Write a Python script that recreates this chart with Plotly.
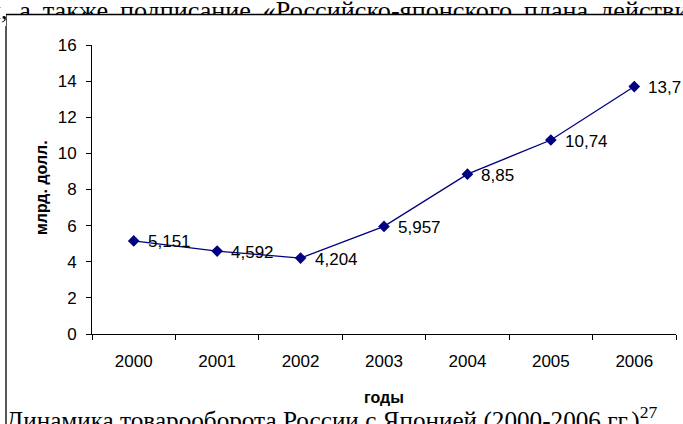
import plotly.graph_objects as go

# ---- data ----
years = ["2000", "2001", "2002", "2003", "2004", "2005", "2006"]
trade = [5.151, 4.592, 4.204, 5.957, 8.85, 10.74, 13.7]
labels = ["5,151", "4,592", "4,204", "5,957", "8,85", "10,74", "13,7"]
y_ticks = [0, 2, 4, 6, 8, 10, 12, 14, 16]
y_title = "млрд. долл."
x_title = "годы"
top_words = ["и,", "а", "также", "подписание", "«Российско-японского", "плана", "действий»"]
caption = "Динамика товарооборота России с Японией (2000-2006 гг.)<sup>27</sup>"

W, H = 683, 424
NAVY = "#000080"
SANS = "Liberation Sans"
SERIF = "Liberation Serif"

# justified document text: ordinary space plus a thin space between words
top_text = " \u2009".join(top_words)

def px(xp):
    return xp / W

def py(yp):
    return 1 - yp / H

fig = go.Figure()

fig.add_trace(go.Scatter(
    x=years, y=trade, mode="lines+markers",
    line=dict(color=NAVY, width=1.3),
    marker=dict(symbol="diamond", size=9, color=NAVY),
    cliponaxis=False, hoverinfo="skip", showlegend=False,
))

# clipped text above the chart box (document text partially hidden)
TX, TY = -53, -12
for xa, ya in (("x2", "y2"), ("x3", "y3")):
    fig.add_trace(go.Scatter(
        x=[TX], y=[TY], mode="text", text=[top_text], textposition="middle right",
        textfont=dict(family=SERIF, size=26.2, color="black"),
        cliponaxis=True, xaxis=xa, yaxis=ya, hoverinfo="skip", showlegend=False,
    ))

annotations = []
for i, (v, lab) in enumerate(zip(trade, labels)):
    annotations.append(dict(
        x=i, y=v, xref="x", yref="y", text=lab, showarrow=False,
        xanchor="left", yanchor="middle", xshift=12, yshift=-1,
        font=dict(family=SANS, size=17, color="black"),
    ))
annotations.append(dict(
    x=px(41), y=py(188), xref="paper", yref="paper", text="<b>" + y_title + "</b>",
    textangle=-90, showarrow=False, xanchor="center", yanchor="middle",
    font=dict(family=SANS, size=16, color="black"),
))
annotations.append(dict(
    x=px(384), y=py(397), xref="paper", yref="paper", text="<b>" + x_title + "</b>",
    showarrow=False, xanchor="center", yanchor="middle",
    font=dict(family=SANS, size=16, color="black"),
))
annotations.append(dict(
    x=px(4), y=py(418), xref="paper", yref="paper", text=caption,
    showarrow=False, xanchor="left", yanchor="middle",
    font=dict(family=SERIF, size=25.2, color="black"),
))

fig.update_layout(
    width=W, height=H, template="none",
    margin=dict(l=0, r=0, t=0, b=0, pad=0),
    paper_bgcolor="white", plot_bgcolor="white",
    showlegend=False,
    annotations=annotations,
    shapes=[dict(
        type="rect", xref="paper", yref="paper",
        x0=px(6), x1=1.05, y0=-0.05, y1=py(14.5),
        line=dict(color="black", width=1.3), fillcolor="rgba(0,0,0,0)", layer="below",
    )],
    xaxis=dict(
        domain=[px(92), px(676)], type="category", range=[-0.5, 6.5],
        tickson="boundaries", ticks="outside", ticklen=5, tickcolor="black",
        showline=True, linecolor="black", linewidth=1, showgrid=False,
        zeroline=False, ticklabelstandoff=12, automargin=False,
        tickfont=dict(family=SANS, size=17, color="black"),
    ),
    yaxis=dict(
        domain=[py(334), py(45)], range=[0, 16], tickvals=y_ticks,
        ticks="outside", ticklen=5, tickcolor="black",
        showline=True, linecolor="black", linewidth=1, showgrid=False,
        zeroline=False, ticklabelstandoff=6, automargin=False,
        tickfont=dict(family=SANS, size=17, color="black"),
    ),
    xaxis2=dict(domain=[0, 1], range=[-40, 643], anchor="y2", visible=False, fixedrange=True),
    yaxis2=dict(domain=[py(14.5), 1], range=[-14.5, 0], anchor="x2", visible=False, fixedrange=True),
    xaxis3=dict(domain=[0, px(6)], range=[-40, -34], anchor="y3", visible=False, fixedrange=True),
    yaxis3=dict(domain=[py(26), 1], range=[-26, 0], anchor="x3", visible=False, fixedrange=True),
)

fig.write_html(
    "out.html",
    config={"displayModeBar": False, "staticPlot": True},
    post_script="document.body.style.margin='0';document.body.style.overflow='hidden';",
)
